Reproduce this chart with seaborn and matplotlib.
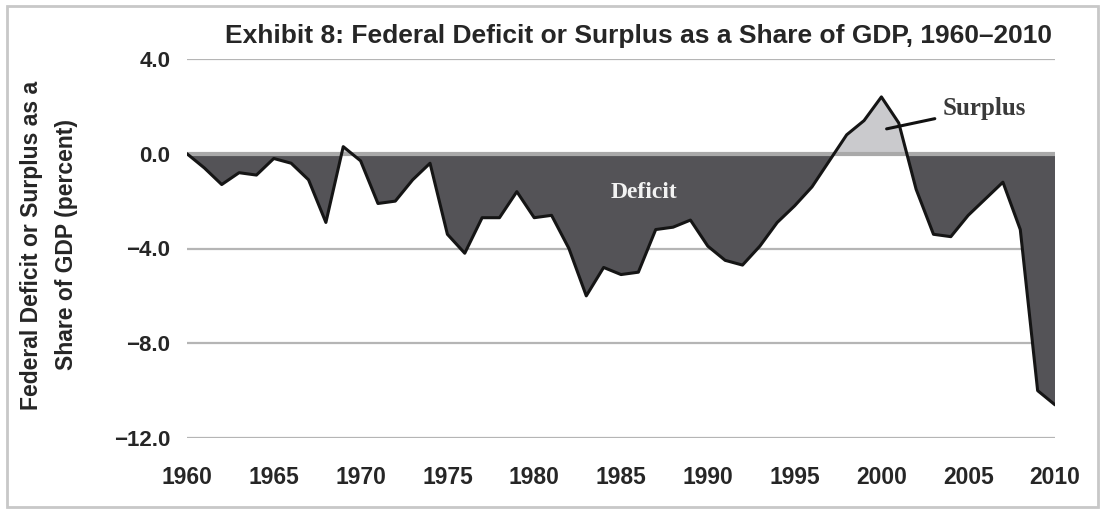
import numpy as np
import pandas as pd
import matplotlib
matplotlib.use("Agg")
import matplotlib.pyplot as plt
import seaborn as sns
from matplotlib.patches import Rectangle

years = list(range(1960, 2011))
values = [0.0, -0.6, -1.3, -0.8, -0.9, -0.2, -0.4, -1.1, -2.9, 0.3,
          -0.3, -2.1, -2.0, -1.1, -0.4, -3.4, -4.2, -2.7, -2.7, -1.6,
          -2.7, -2.6, -4.0, -6.0, -4.8, -5.1, -5.0, -3.2, -3.1, -2.8,
          -3.9, -4.5, -4.7, -3.9, -2.9, -2.2, -1.4, -0.3, 0.8, 1.4,
          2.4, 1.3, -1.5, -3.4, -3.5, -2.6, -1.9, -1.2, -3.2, -10.0,
          -10.6]
xticks = [1960, 1965, 1970, 1975, 1980, 1985, 1990, 1995, 2000, 2005, 2010]
yticks = [4.0, 0.0, -4.0, -8.0, -12.0]
ytick_labels = ["4.0", "0.0", "\u22124.0", "\u22128.0", "\u221212.0"]
title = "Exhibit 8: Federal Deficit or Surplus as a Share of GDP, 1960\u20132010"
ylabel = "Federal Deficit or Surplus as a\nShare of GDP (percent)"

df = pd.DataFrame({"year": years, "value": values})

sns.set_theme(style="white")
plt.rcParams["font.family"] = ["Liberation Sans", "DejaVu Sans"]

W, H = 1103, 517
fig = plt.figure(figsize=(W / 100, H / 100), dpi=100)
ax = fig.add_axes([187 / W, 1 - 438 / H, (1055 - 187) / W, (438 - 59) / H])

x = df["year"].to_numpy(dtype=float)
y = df["value"].to_numpy(dtype=float)
ax.fill_between(x, y, 0, where=y <= 0, interpolate=True, color="#545357", lw=0, zorder=2)
ax.fill_between(x, y, 0, where=y >= 0, interpolate=True, color="#cacacd", lw=0, zorder=2)
ax.axhline(0, color="#a9a9a9", lw=3, zorder=3)
sns.lineplot(data=df, x="year", y="value", color="#151515", lw=2.2, ax=ax, zorder=4)

ax.set_xlim(1960, 2010)
ax.set_ylim(-12, 4)
ax.set_yticks(yticks)
ax.set_yticklabels(ytick_labels)
ax.set_xticks(xticks)
ax.set_xticklabels([str(t) for t in xticks])
ax.tick_params(axis="y", labelsize=16, pad=12, length=0, labelcolor="#262626")
ax.tick_params(axis="x", labelsize=16.5, pad=20, length=0, labelcolor="#262626")
for lab in ax.get_xticklabels() + ax.get_yticklabels():
    lab.set_fontweight("bold")
ax.grid(axis="y", color="#b5b5b5", lw=1.6, zorder=1)
ax.grid(axis="x", visible=False)
for s in ax.spines.values():
    s.set_visible(False)
ax.set_xlabel("")
ax.set_ylabel("")

fig.text(49 / W, 1 - 245 / H, ylabel, rotation=90, ha="center", va="center",
         fontsize=16.5, fontweight="bold", color="#262626", linespacing=1.7)
fig.text(639 / W, 1 - 36 / H, title, ha="center", va="center",
         fontsize=19, fontweight="bold", color="#262626")

ax.text(1986.3, -1.62, "Deficit", ha="center", va="center", color="#f2f2f2",
        fontsize=17, fontweight="bold", family=["Liberation Serif", "DejaVu Serif"], zorder=5)
ax.annotate("Surplus", xy=(2000.3, 1.05), xytext=(2003.5, 1.92),
            ha="left", va="center", color="#3a3a3a", fontsize=18, fontweight="bold",
            family=["Liberation Serif", "DejaVu Serif"],
            arrowprops=dict(arrowstyle="-", color="#111111", lw=2.2, shrinkA=3, shrinkB=0),
            zorder=5)

fig.patches.append(Rectangle((7 / W, 1 - 507 / H), (1098 - 7) / W, (507 - 6) / H,
                             transform=fig.transFigure, fill=False,
                             edgecolor="#c8c8c8", lw=2))

fig.savefig("out.png", dpi=100)
